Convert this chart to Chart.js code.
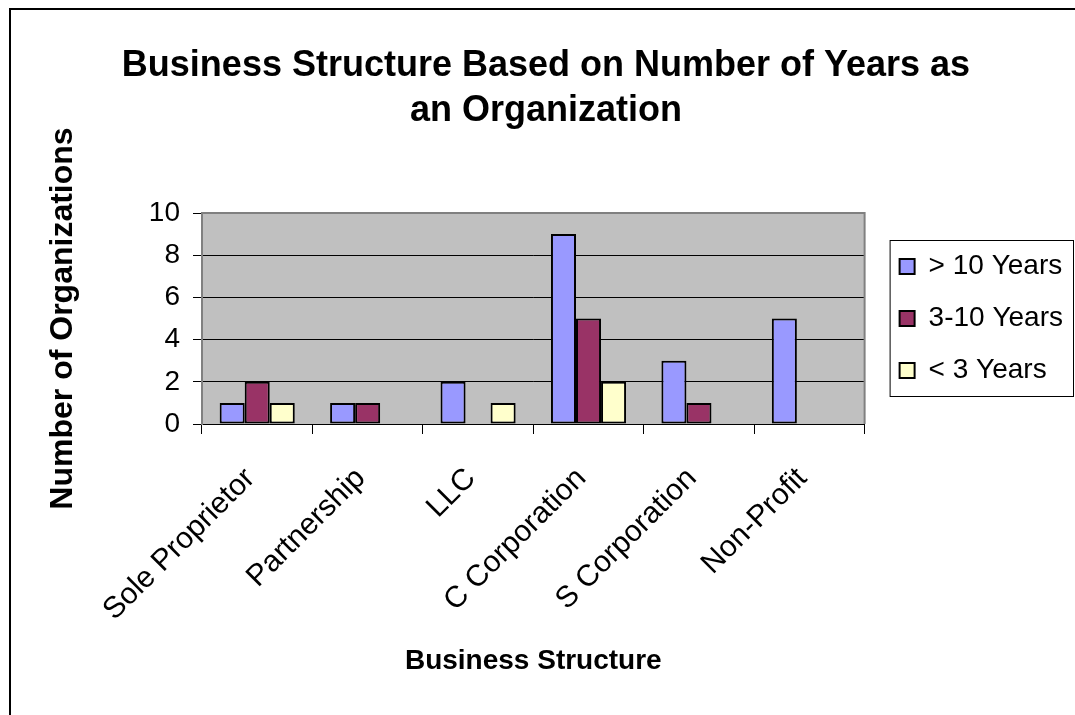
<!DOCTYPE html>
<html lang="en">
<head>
<meta charset="utf-8" />
<title>Business Structure Based on Number of Years as an Organization</title>
<script src="https://cdn.jsdelivr.net/npm/chart.js"></script>
<style>
  html, body { margin: 0; padding: 0; background: #fff; }
  canvas { display: block; }
</style>
</head>
<body>
<canvas id="chart" width="1075" height="715"></canvas>
<script>
// categories and counts per age group
var structures = ['Sole Proprietor', 'Partnership', 'LLC', 'C Corporation', 'S Corporation', 'Non-Profit'];
var seriesNames = ['> 10 Years', '3-10 Years', '< 3 Years'];
var overTen = [1, 1, 2, 9, 3, 5];
var threeToTen = [2, 1, 0, 5, 1, 0];
var underThree = [1, 0, 1, 2, 0, 0];
var yTicks = [0, 2, 4, 6, 8, 10];

var colors = ['#9999ff', '#993366', '#ffffcc'];
var FONT = "'Liberation Sans', Arial, sans-serif";

Chart.defaults.font.family = FONT;
Chart.defaults.color = '#000';

// white page, outer frame, grey plot background
var backdrop = {
    id: 'backdrop',
    beforeDraw: function (chart) {
        var ctx = chart.ctx, a = chart.chartArea;
        ctx.save();
        ctx.fillStyle = '#fff';
        ctx.fillRect(0, 0, chart.width, chart.height);
        ctx.fillStyle = '#000';
        ctx.fillRect(9, 8, chart.width - 9, 2);
        ctx.fillRect(9, 8, 2, chart.height - 8);
        ctx.fillStyle = '#c0c0c0';
        ctx.fillRect(a.left, a.top, a.right - a.left, a.bottom - a.top);
        ctx.restore();
    },
    beforeDatasetsDraw: function (chart) {
        var ctx = chart.ctx, a = chart.chartArea;
        ctx.save();
        ctx.strokeStyle = '#808080';
        ctx.lineWidth = 2;
        ctx.beginPath();
        ctx.moveTo(a.left, a.top);
        ctx.lineTo(a.right, a.top);
        ctx.lineTo(a.right, a.bottom);
        ctx.stroke();
        ctx.restore();
    }
};

// nudge the legend off the plot and put a box round it
var legendFrame = {
    id: 'legendFrame',
    afterUpdate: function (chart) {
        chart.legend.left += 11;
        chart.legend.right += 11;
    },
    afterDraw: function (chart) {
        var ctx = chart.ctx, a = chart.chartArea, lg = chart.legend;
        var x = lg.left + lg.options.labels.padding - 10;
        ctx.save();
        ctx.strokeStyle = '#000';
        ctx.lineWidth = 1;
        ctx.strokeRect(x + 0.5, a.top + 27.5, chart.width - 2 - x, a.bottom - a.top - 55);
        ctx.restore();
    }
};

function series(i, values) {
    return {
        label: seriesNames[i],
        data: values,
        backgroundColor: colors[i],
        borderColor: '#000',
        borderWidth: 2,
        borderSkipped: false,
        barPercentage: 1,
        categoryPercentage: 0.68
    };
}

new Chart(document.getElementById('chart'), {
    type: 'bar',
    data: {
        labels: structures,
        datasets: [series(0, overTen), series(1, threeToTen), series(2, underThree)]
    },
    options: {
        responsive: false,
        animation: false,
        layout: { padding: { left: 30, right: 13, top: 0, bottom: 0 } },
        plugins: {
            title: {
                display: true,
                text: ['Business Structure Based on Number of Years as', 'an Organization'],
                font: { size: 36, weight: 'bold', lineHeight: 1.25 },
                color: '#000',
                padding: { top: 44, bottom: 79 }
            },
            legend: {
                position: 'right',
                fullSize: false,
                labels: {
                    boxWidth: 15,
                    boxHeight: 15,
                    padding: 24,
                    font: { size: 28 },
                    color: '#000'
                }
            },
            tooltip: { enabled: false }
        },
        scales: {
            x: {
                offset: true,
                grid: { drawOnChartArea: false, drawTicks: true, tickLength: 10, color: '#000', offset: true },
                border: { color: '#000', width: 1 },
                ticks: {
                    font: { size: 30 },
                    color: '#000',
                    minRotation: 45,
                    maxRotation: 45,
                    autoSkip: false,
                    padding: 27,
                    labelOffset: -7
                },
                title: {
                    display: true,
                    text: 'Business Structure',
                    font: { size: 28, weight: 'bold' },
                    padding: { top: 0, bottom: 37 }
                },
                afterFit: function (scale) { scale.height = 291; }
            },
            y: {
                min: 0,
                max: 10,
                grid: { color: '#000', lineWidth: 1, tickLength: 9 },
                border: { color: '#808080', width: 2 },
                ticks: {
                    font: { size: 28 },
                    color: '#000',
                    padding: 13,
                    stepSize: 2,
                    callback: function (v) { return yTicks.indexOf(v) >= 0 ? String(v) : ''; }
                },
                title: {
                    display: true,
                    text: 'Number of Organizations',
                    font: { size: 32, weight: 'bold' },
                    padding: { top: 14 }
                },
                afterFit: function (scale) { scale.width = 172; }
            }
        }
    },
    plugins: [backdrop, legendFrame]
});
</script>
</body>
</html>
